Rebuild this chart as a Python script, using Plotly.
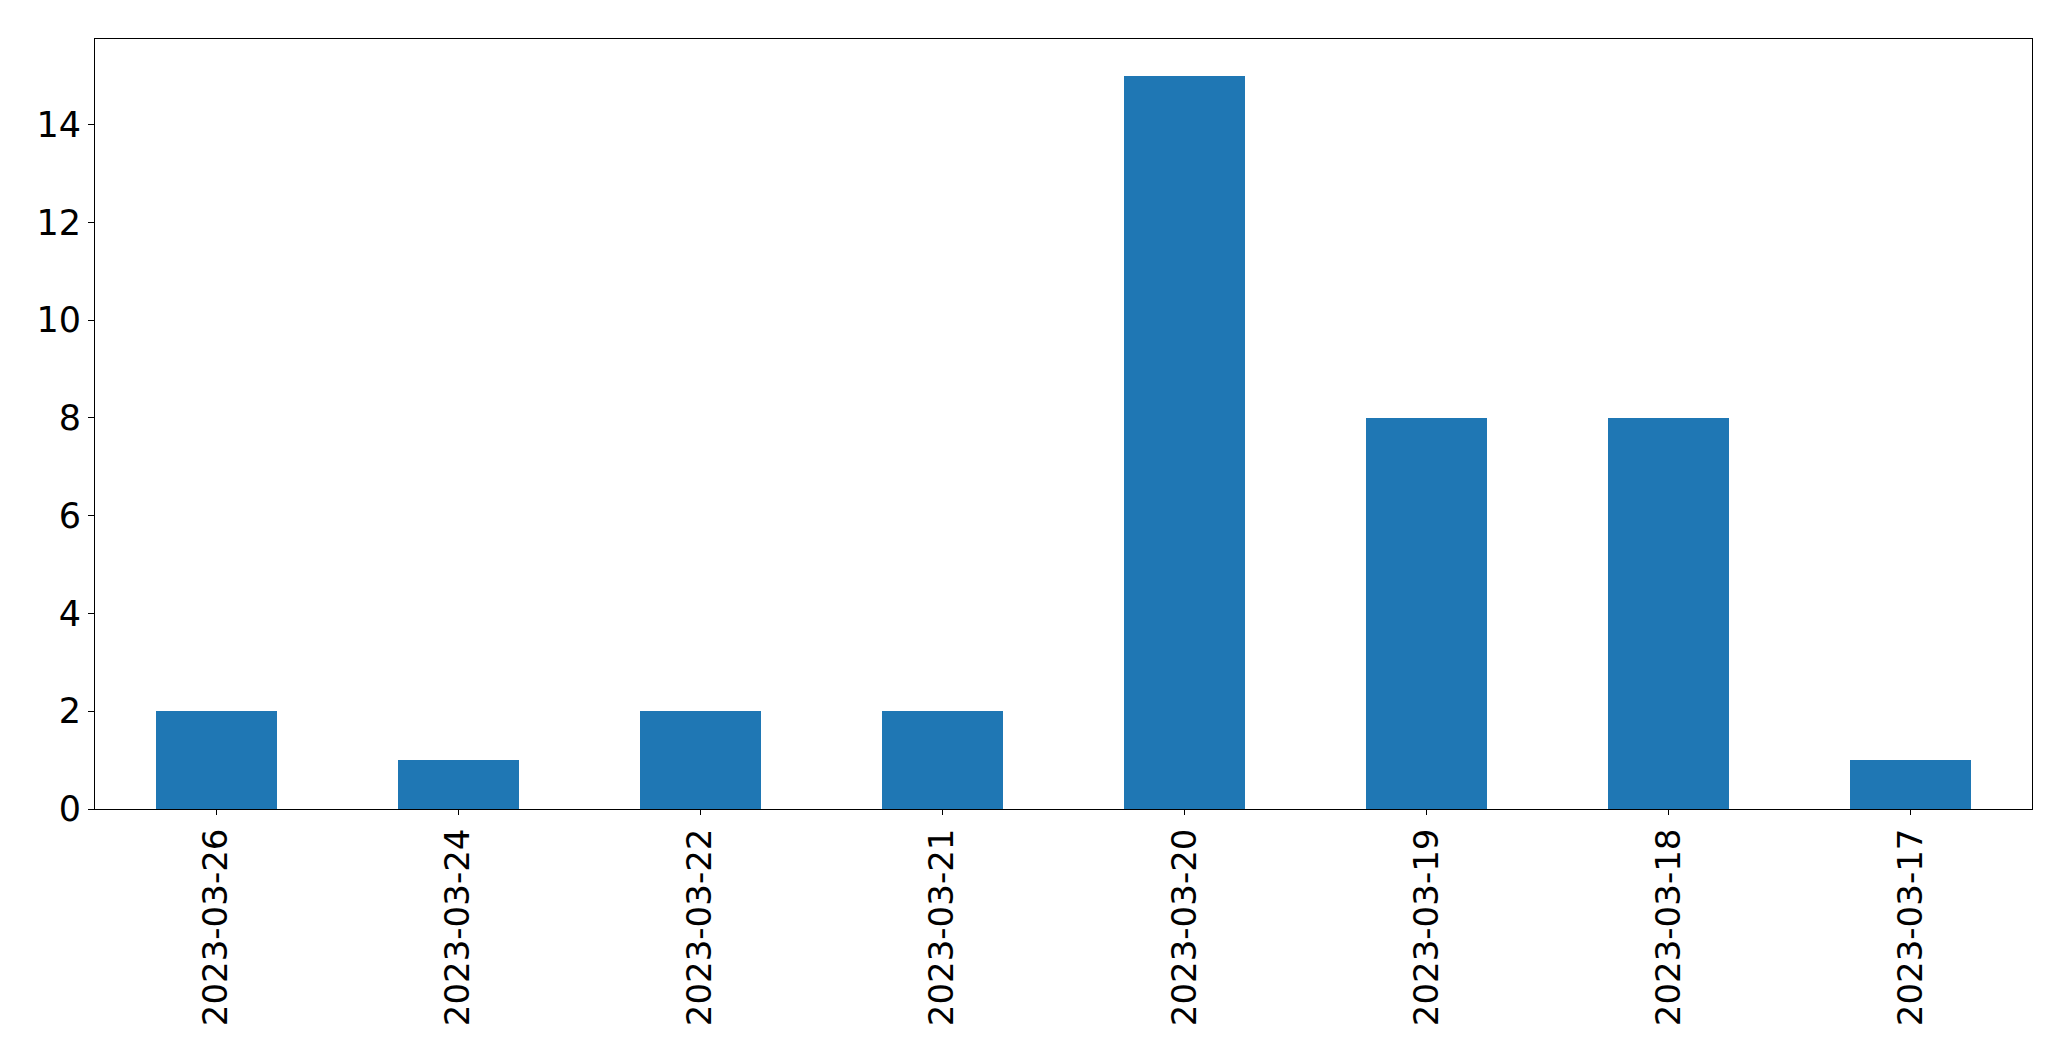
import plotly.graph_objects as go

dates = ["2023-03-26", "2023-03-24", "2023-03-22", "2023-03-21",
         "2023-03-20", "2023-03-19", "2023-03-18", "2023-03-17"]
counts = [2, 1, 2, 2, 15, 8, 8, 1]
y_ticks = [0, 2, 4, 6, 8, 10, 12, 14]

fig = go.Figure(go.Bar(x=dates, y=counts, marker_color="#1f77b4",
                       marker_line_width=0, width=0.5))

fig.update_layout(
    width=2055, height=1045,
    margin=dict(l=87, r=31, t=31, b=244),
    paper_bgcolor="white", plot_bgcolor="white",
    font=dict(family="DejaVu Sans", size=35, color="black"),
    showlegend=False,
    bargap=0,
)
fig.update_xaxes(type="category", range=[-0.5, 7.5], tickangle=-90,
                 tickfont=dict(size=34),
                 showline=True, linecolor="black", linewidth=1, mirror=True,
                 ticks="outside", ticklen=5, tickcolor="black", tickwidth=1,
                 showgrid=False, zeroline=False)
fig.update_yaxes(range=[0, 15.75], tickvals=y_ticks,
                 showline=True, linecolor="black", linewidth=1, mirror=True,
                 ticks="outside", ticklen=6, tickcolor="black", tickwidth=1,
                 showgrid=False, zeroline=False)

fig.write_html("out.html")
